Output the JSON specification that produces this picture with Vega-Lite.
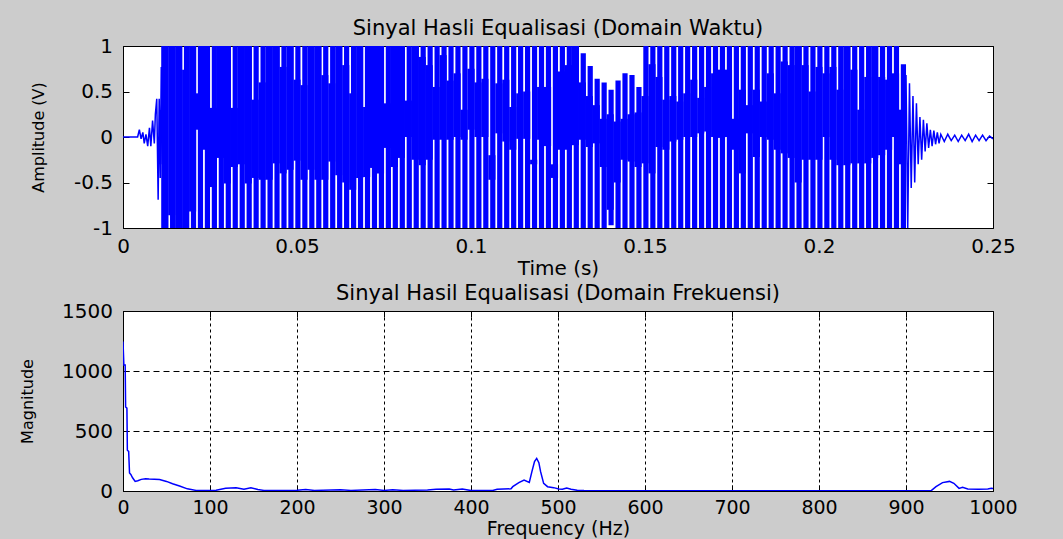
{
  "$schema": "https://vega.github.io/schema/vega-lite/v6.json",
  "background": "#cccccc",
  "padding": {"left": 18, "top": 17, "right": 45, "bottom": 0},
  "bounds": "flush",
  "spacing": 83,
  "config": {
    "view": {"fill": "white", "stroke": "black", "strokeWidth": 1},
    "font": "DejaVu Sans",
    "axis": {
      "labelFont": "DejaVu Sans", "labelFontSize": 20, "labelColor": "black",
      "titleFont": "DejaVu Sans", "titleFontWeight": "normal", "titleColor": "black",
      "domain": false, "tickColor": "black", "tickSize": -6, "tickWidth": 1,
      "labelPadding": 14, "zindex": 1, "grid": false, "labelFlush": false, "labelOverlap": false
    },
    "title": {"font": "DejaVu Sans", "fontSize": 21, "fontWeight": "normal", "color": "black", "baseline": "alphabetic", "offset": -3.3, "anchor": "middle"}
  },
  "datasets": {
    "sig": [
      {"t":0.012,"clo":-1,"chi":1,"lo":-1,"hi":1},
      {"t":0.014,"clo":-0.86,"chi":1,"lo":-1,"hi":1},
      {"t":0.016,"clo":-1,"chi":1,"lo":-1,"hi":1},
      {"t":0.018,"clo":-1,"chi":0.74,"lo":-1,"hi":1},
      {"t":0.020,"clo":-0.82,"chi":1,"lo":-1,"hi":1},
      {"t":0.022,"clo":0.08,"chi":0.48,"lo":-1,"hi":1},
      {"t":0.024,"clo":-0.14,"chi":1,"lo":-1,"hi":1},
      {"t":0.026,"clo":-0.55,"chi":0.32,"lo":-1,"hi":1},
      {"t":0.028,"clo":-0.23,"chi":1,"lo":-1,"hi":1},
      {"t":0.030,"clo":-0.51,"chi":1,"lo":-1,"hi":1},
      {"t":0.032,"clo":-0.33,"chi":0.32,"lo":-1,"hi":1},
      {"t":0.034,"clo":-0.3,"chi":1,"lo":-1,"hi":1},
      {"t":0.036,"clo":-0.51,"chi":1,"lo":-1,"hi":1},
      {"t":0.038,"clo":-0.45,"chi":0.41,"lo":-1,"hi":1},
      {"t":0.040,"clo":-0.47,"chi":0.6,"lo":-1,"hi":1},
      {"t":0.042,"clo":-0.47,"chi":1,"lo":-1,"hi":1},
      {"t":0.044,"clo":-0.29,"chi":1,"lo":-1,"hi":1},
      {"t":0.046,"clo":-0.4,"chi":0.77,"lo":-1,"hi":1},
      {"t":0.048,"clo":-0.36,"chi":1,"lo":-1,"hi":1},
      {"t":0.050,"clo":-0.26,"chi":0.63,"lo":-1,"hi":1},
      {"t":0.052,"clo":-0.47,"chi":0.57,"lo":-1,"hi":1},
      {"t":0.054,"clo":-0.36,"chi":1,"lo":-1,"hi":1},
      {"t":0.056,"clo":-0.47,"chi":1,"lo":-1,"hi":1},
      {"t":0.058,"clo":-0.47,"chi":0.68,"lo":-1,"hi":1},
      {"t":0.060,"clo":-0.27,"chi":0.59,"lo":-1,"hi":1},
      {"t":0.062,"clo":-0.42,"chi":1,"lo":-1,"hi":1},
      {"t":0.064,"clo":-0.5,"chi":0.79,"lo":-1,"hi":1},
      {"t":0.066,"clo":-0.58,"chi":0.48,"lo":-1,"hi":1},
      {"t":0.068,"clo":-0.45,"chi":1,"lo":-1,"hi":1},
      {"t":0.070,"clo":-0.44,"chi":0.33,"lo":-1,"hi":1},
      {"t":0.072,"clo":-0.34,"chi":1,"lo":-1,"hi":1},
      {"t":0.074,"clo":-0.4,"chi":1,"lo":-1,"hi":1},
      {"t":0.076,"clo":-0.12,"chi":0.37,"lo":-1,"hi":1},
      {"t":0.078,"clo":-0.33,"chi":1,"lo":-1,"hi":1},
      {"t":0.080,"clo":-0.23,"chi":1,"lo":-1,"hi":1},
      {"t":0.082,"clo":0,"chi":0.4,"lo":-1,"hi":1},
      {"t":0.084,"clo":-0.25,"chi":1,"lo":-1,"hi":1},
      {"t":0.086,"clo":-0.31,"chi":0.88,"lo":-1,"hi":1},
      {"t":0.088,"clo":-0.25,"chi":0.79,"lo":-1,"hi":1},
      {"t":0.090,"clo":-0.03,"chi":0.55,"lo":-1,"hi":1},
      {"t":0.092,"clo":-0.03,"chi":0.9,"lo":-1,"hi":1},
      {"t":0.094,"clo":-0.03,"chi":0.62,"lo":-1,"hi":1},
      {"t":0.096,"clo":0,"chi":0.7,"lo":-1,"hi":1},
      {"t":0.098,"clo":-0.03,"chi":0.3,"lo":-1,"hi":1},
      {"t":0.100,"clo":0.08,"chi":0.75,"lo":-1,"hi":1},
      {"t":0.102,"clo":0,"chi":0.6,"lo":-1,"hi":1},
      {"t":0.104,"clo":0,"chi":0.64,"lo":-1,"hi":1},
      {"t":0.106,"clo":-0.47,"chi":-0.2,"lo":-1,"hi":1},
      {"t":0.108,"clo":0.04,"chi":0.59,"lo":-1,"hi":1},
      {"t":0.110,"clo":-0.05,"chi":0.63,"lo":-1,"hi":1},
      {"t":0.112,"clo":-0.14,"chi":0.33,"lo":-1,"hi":1},
      {"t":0.114,"clo":-0.02,"chi":0.48,"lo":-1,"hi":1},
      {"t":0.116,"clo":-0.02,"chi":0.5,"lo":-1,"hi":1},
      {"t":0.118,"clo":-0.3,"chi":-0.25,"lo":-1,"hi":1},
      {"t":0.120,"clo":-0.03,"chi":0.55,"lo":-1,"hi":1},
      {"t":0.122,"clo":-0.1,"chi":0.55,"lo":-1,"hi":1},
      {"t":0.124,"clo":-0.45,"chi":-0.3,"lo":-1,"hi":1},
      {"t":0.126,"clo":-0.14,"chi":0.72,"lo":-1,"hi":1},
      {"t":0.128,"clo":-0.14,"chi":0.79,"lo":-1,"hi":1},
      {"t":0.130,"clo":-0.09,"chi":1,"lo":-1,"hi":1},
      {"t":0.132,"clo":-0.03,"chi":0.6,"lo":-1,"hi":0.92},
      {"t":0.134,"clo":-0.11,"chi":0.45,"lo":-1,"hi":0.78},
      {"t":0.136,"clo":-0.07,"chi":0.35,"lo":-1,"hi":0.64},
      {"t":0.138,"clo":-0.33,"chi":0.2,"lo":-1,"hi":0.6},
      {"t":0.140,"clo":-0.8,"chi":0.25,"lo":-0.97,"hi":0.52},
      {"t":0.142,"clo":-0.5,"chi":0.17,"lo":-1,"hi":0.62},
      {"t":0.144,"clo":-0.25,"chi":0.2,"lo":-1,"hi":0.7},
      {"t":0.146,"clo":-0.27,"chi":0.25,"lo":-1,"hi":0.68},
      {"t":0.148,"clo":-0.33,"chi":0.27,"lo":-1,"hi":0.55},
      {"t":0.150,"clo":-0.29,"chi":0.45,"lo":-1,"hi":1},
      {"t":0.152,"clo":-0.4,"chi":0.8,"lo":-1,"hi":1},
      {"t":0.154,"clo":-0.11,"chi":0.66,"lo":-1,"hi":1},
      {"t":0.156,"clo":-0.14,"chi":0.41,"lo":-1,"hi":1},
      {"t":0.158,"clo":-0.05,"chi":0.45,"lo":-1,"hi":1},
      {"t":0.160,"clo":-0.03,"chi":0.39,"lo":-1,"hi":1},
      {"t":0.162,"clo":0,"chi":0.48,"lo":-1,"hi":1},
      {"t":0.164,"clo":0,"chi":0.63,"lo":-1,"hi":1},
      {"t":0.166,"clo":0.04,"chi":0.43,"lo":-1,"hi":1},
      {"t":0.168,"clo":0.06,"chi":0.55,"lo":-1,"hi":1},
      {"t":0.170,"clo":0,"chi":0.7,"lo":-1,"hi":1},
      {"t":0.172,"clo":-0.01,"chi":0.74,"lo":-1,"hi":1},
      {"t":0.174,"clo":0,"chi":0.74,"lo":-1,"hi":1},
      {"t":0.176,"clo":-0.14,"chi":0.2,"lo":-1,"hi":1},
      {"t":0.178,"clo":-0.4,"chi":0.52,"lo":-1,"hi":1},
      {"t":0.180,"clo":0.04,"chi":0.35,"lo":-1,"hi":1},
      {"t":0.182,"clo":-0.22,"chi":0.52,"lo":-1,"hi":1},
      {"t":0.184,"clo":0,"chi":0.39,"lo":-1,"hi":1},
      {"t":0.186,"clo":-0.03,"chi":0.7,"lo":-1,"hi":1},
      {"t":0.188,"clo":-0.14,"chi":0.48,"lo":-1,"hi":1},
      {"t":0.190,"clo":-0.18,"chi":0.83,"lo":-1,"hi":1},
      {"t":0.192,"clo":-0.23,"chi":0.79,"lo":-1,"hi":1},
      {"t":0.194,"clo":-0.5,"chi":1,"lo":-1,"hi":1},
      {"t":0.196,"clo":-0.25,"chi":0.79,"lo":-1,"hi":1},
      {"t":0.198,"clo":-0.25,"chi":0.5,"lo":-1,"hi":1},
      {"t":0.200,"clo":-0.25,"chi":0.77,"lo":-1,"hi":1},
      {"t":0.202,"clo":0,"chi":0.7,"lo":-1,"hi":1},
      {"t":0.204,"clo":-0.25,"chi":0.77,"lo":-1,"hi":1},
      {"t":0.206,"clo":-0.31,"chi":0.52,"lo":-1,"hi":1},
      {"t":0.208,"clo":-0.31,"chi":1,"lo":-1,"hi":1},
      {"t":0.210,"clo":-0.29,"chi":0.74,"lo":-1,"hi":1},
      {"t":0.212,"clo":-0.29,"chi":0.3,"lo":-1,"hi":1},
      {"t":0.214,"clo":-0.29,"chi":0.66,"lo":-1,"hi":1},
      {"t":0.216,"clo":-0.23,"chi":1,"lo":-1,"hi":1},
      {"t":0.218,"clo":-0.2,"chi":0.66,"lo":-1,"hi":1},
      {"t":0.220,"clo":-0.14,"chi":0.63,"lo":-1,"hi":1},
      {"t":0.222,"clo":0,"chi":0.7,"lo":-1,"hi":1},
      {"t":0.224,"clo":-0.3,"chi":0.3,"lo":-1,"hi":0.8}
    ],
    "edge": [
      {"t":0,"v":0,"seg":"a"},{"t":0.0042,"v":0,"seg":"a"},{"t":0.0047,"v":0.08,"seg":"a"},{"t":0.0052,"v":-0.02,"seg":"a"},
      {"t":0.0057,"v":0.05,"seg":"a"},{"t":0.0061,"v":-0.07,"seg":"a"},{"t":0.0066,"v":0.03,"seg":"a"},{"t":0.0071,"v":-0.1,"seg":"a"},
      {"t":0.0076,"v":0.1,"seg":"a"},{"t":0.008,"v":-0.1,"seg":"a"},{"t":0.0085,"v":0.18,"seg":"a"},{"t":0.009,"v":-0.07,"seg":"a"},
      {"t":0.0093,"v":0.25,"seg":"a"},{"t":0.0097,"v":0.42,"seg":"a"},{"t":0.0101,"v":-0.69,"seg":"a"},{"t":0.0104,"v":0.42,"seg":"a"},
      {"t":0.0107,"v":-0.45,"seg":"a"},{"t":0.011,"v":0.77,"seg":"a"},{"t":0.0113,"v":-0.3,"seg":"a"},{"t":0.0116,"v":1,"seg":"a"},
      {"t":0.2245,"v":-1,"seg":"b"},{"t":0.225,"v":0.68,"seg":"b"},{"t":0.2255,"v":-1,"seg":"b"},{"t":0.226,"v":0.59,"seg":"b"},
      {"t":0.2265,"v":-0.56,"seg":"b"},{"t":0.227,"v":0.45,"seg":"b"},{"t":0.2275,"v":-0.5,"seg":"b"},{"t":0.228,"v":0.37,"seg":"b"},
      {"t":0.2285,"v":-0.3,"seg":"b"},{"t":0.229,"v":0.22,"seg":"b"},{"t":0.2295,"v":-0.25,"seg":"b"},{"t":0.23,"v":0.19,"seg":"b"},
      {"t":0.2305,"v":-0.16,"seg":"b"},{"t":0.231,"v":0.15,"seg":"b"},{"t":0.2315,"v":-0.12,"seg":"b"},{"t":0.232,"v":0.08,"seg":"b"},
      {"t":0.2325,"v":-0.1,"seg":"b"},{"t":0.233,"v":0.07,"seg":"b"},{"t":0.2335,"v":-0.08,"seg":"b"},{"t":0.234,"v":0.05,"seg":"b"},
      {"t":0.2345,"v":-0.07,"seg":"b"},{"t":0.235,"v":0.03,"seg":"b"},{"t":0.236,"v":-0.05,"seg":"b"},{"t":0.237,"v":0.03,"seg":"b"},
      {"t":0.238,"v":-0.04,"seg":"b"},{"t":0.239,"v":0.02,"seg":"b"},{"t":0.24,"v":-0.05,"seg":"b"},{"t":0.241,"v":0.02,"seg":"b"},
      {"t":0.242,"v":-0.04,"seg":"b"},{"t":0.243,"v":0.03,"seg":"b"},{"t":0.244,"v":-0.05,"seg":"b"},{"t":0.245,"v":0.02,"seg":"b"},
      {"t":0.246,"v":-0.04,"seg":"b"},{"t":0.247,"v":0.02,"seg":"b"},{"t":0.248,"v":-0.04,"seg":"b"},{"t":0.249,"v":0.01,"seg":"b"},
      {"t":0.25,"v":-0.02,"seg":"b"}
    ],
    "spec": [
      {"f":0,"m":1245},{"f":1,"m":1050},{"f":2.5,"m":1050},{"f":3,"m":700},{"f":4.5,"m":690},{"f":5,"m":340},{"f":6.5,"m":330},
      {"f":7.5,"m":150},{"f":9,"m":138},{"f":11,"m":110},{"f":14,"m":80},{"f":17,"m":85},{"f":21,"m":97},{"f":26,"m":103},
      {"f":30,"m":100},{"f":42,"m":95},{"f":50,"m":80},{"f":57,"m":60},{"f":65,"m":42},{"f":74,"m":18},{"f":84,"m":5},
      {"f":100,"m":5},{"f":107,"m":7},{"f":118,"m":22},{"f":130,"m":27},{"f":139,"m":14},{"f":147,"m":27},{"f":155,"m":12},
      {"f":162,"m":5},{"f":200,"m":6},{"f":210,"m":12},{"f":220,"m":5},{"f":250,"m":10},{"f":262,"m":5},{"f":290,"m":12},
      {"f":300,"m":5},{"f":310,"m":10},{"f":322,"m":5},{"f":350,"m":8},{"f":360,"m":15},{"f":375,"m":16},{"f":380,"m":8},
      {"f":390,"m":16},{"f":400,"m":4},{"f":425,"m":4},{"f":430,"m":15},{"f":446,"m":18},{"f":448,"m":36},{"f":455,"m":70},
      {"f":461,"m":92},{"f":467,"m":72},{"f":470,"m":161},{"f":473,"m":245},{"f":475.5,"m":272},{"f":478,"m":236},{"f":480,"m":161},
      {"f":483.5,"m":64},{"f":488,"m":36},{"f":495,"m":28},{"f":501,"m":17},{"f":505,"m":15},{"f":510,"m":25},{"f":515,"m":15},
      {"f":522,"m":6},{"f":530,"m":4},{"f":600,"m":3},{"f":700,"m":3},{"f":800,"m":3},{"f":900,"m":3},{"f":929,"m":3},
      {"f":934.5,"m":36},{"f":942,"m":70},{"f":950,"m":80},{"f":955,"m":64},{"f":961,"m":22},{"f":965,"m":30},{"f":971,"m":17},
      {"f":983,"m":14},{"f":994,"m":17},{"f":998,"m":22},{"f":1000,"m":20}
    ]
  },
  "vconcat": [
    {
      "width": 870,
      "height": 182,
      "title": {"text": "Sinyal Hasli Equalisasi (Domain Waktu)"},
      "resolve": {"axis": {"x": "independent", "y": "independent"}},
      "layer": [
        {
          "data": {"name": "sig"},
          "mark": {"type": "rule", "strokeWidth": 7.1, "color": "#0000ff", "strokeCap": "butt", "clip": true},
          "encoding": {
            "x": {"field": "t", "type": "quantitative", "scale": {"domain": [0, 0.25], "nice": false, "zero": false},
                  "axis": {"orient": "bottom", "values": [0, 0.05, 0.1, 0.15, 0.2, 0.25], "labelExpr": "'' + datum.value",
                           "title": "Time (s)", "titleFontSize": 20, "titleY": 46, "titleBaseline": "alphabetic"}},
            "y": {"field": "clo", "type": "quantitative", "scale": {"domain": [-1, 1], "nice": false, "zero": false},
                  "axis": {"orient": "left", "values": [-1, -0.5, 0, 0.5, 1], "labelExpr": "'' + datum.value", "labelPadding": 16.5,
                           "title": "Amplitude (V)", "titleFontSize": 16, "titleX": -85, "titleY": 91, "titleBaseline": "middle"}},
            "y2": {"field": "chi"}
          }
        },
        {
          "data": {"name": "sig"},
          "mark": {"type": "rule", "strokeWidth": 5.2, "xOffset": 0.9, "color": "#0000ff", "strokeCap": "butt", "clip": true},
          "encoding": {
            "x": {"field": "t", "type": "quantitative", "scale": {"domain": [0, 0.25], "nice": false, "zero": false},
                  "axis": {"orient": "top", "values": [0, 0.05, 0.1, 0.15, 0.2, 0.25], "labels": false, "title": null}},
            "y": {"field": "lo", "type": "quantitative", "scale": {"domain": [-1, 1], "nice": false, "zero": false},
                  "axis": {"orient": "right", "values": [-1, -0.5, 0, 0.5, 1], "labels": false, "title": null}},
            "y2": {"field": "hi"}
          }
        },
        {
          "data": {"name": "edge"},
          "mark": {"type": "line", "strokeWidth": 1.5, "color": "#0000ff", "clip": true},
          "encoding": {
            "x": {"field": "t", "type": "quantitative", "scale": {"domain": [0, 0.25], "nice": false, "zero": false}, "axis": null},
            "y": {"field": "v", "type": "quantitative", "scale": {"domain": [-1, 1], "nice": false, "zero": false}, "axis": null},
            "detail": {"field": "seg", "type": "nominal"}
          }
        }
      ]
    },
    {
      "width": 870,
      "height": 180,
      "title": {"text": "Sinyal Hasil Equalisasi (Domain Frekuensi)"},
      "resolve": {"axis": {"x": "independent", "y": "independent"}},
      "layer": [
        {
          "data": {"name": "spec"},
          "mark": {"type": "line", "strokeWidth": 1.5, "color": "#0000ff", "clip": true},
          "encoding": {
            "x": {"field": "f", "type": "quantitative", "scale": {"domain": [0, 1000], "nice": false, "zero": false},
                  "axis": {"orient": "bottom", "values": [0, 100, 200, 300, 400, 500, 600, 700, 800, 900, 1000], "labelExpr": "'' + datum.value",
                           "labelFontSize": 19, "labelPadding": 13,
                           "grid": true, "gridColor": "black", "gridDash": [3, 3], "gridWidth": 1,
                           "title": "Frequency (Hz)", "titleFontSize": 19, "titleY": 43.5, "titleBaseline": "alphabetic"}},
            "y": {"field": "m", "type": "quantitative", "scale": {"domain": [0, 1500], "nice": false, "zero": false},
                  "axis": {"orient": "left", "values": [0, 500, 1000, 1500], "labelExpr": "'' + datum.value", "labelPadding": 16.5,
                           "grid": true, "gridColor": "black", "gridDash": [6, 4], "gridWidth": 1,
                           "title": "Magnitude", "titleFontSize": 16, "titleX": -96, "titleY": 90, "titleBaseline": "middle"}}
          }
        },
        {
          "data": {"name": "spec"},
          "mark": {"type": "line", "strokeOpacity": 0, "clip": true},
          "encoding": {
            "x": {"field": "f", "type": "quantitative", "scale": {"domain": [0, 1000], "nice": false, "zero": false},
                  "axis": {"orient": "top", "values": [0, 100, 200, 300, 400, 500, 600, 700, 800, 900, 1000], "labels": false, "title": null}},
            "y": {"field": "m", "type": "quantitative", "scale": {"domain": [0, 1500], "nice": false, "zero": false},
                  "axis": {"orient": "right", "values": [0, 500, 1000, 1500], "labels": false, "title": null}}
          }
        }
      ]
    }
  ]
}
